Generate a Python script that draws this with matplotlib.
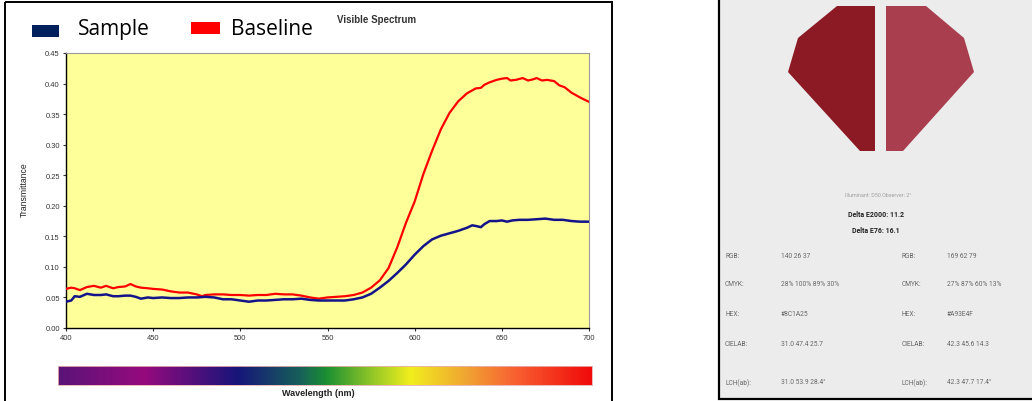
import numpy as np
import matplotlib
matplotlib.use("Agg")
from matplotlib import pyplot as plt
from matplotlib.patches import Rectangle, Polygon
from matplotlib.colors import LinearSegmentedColormap

# spectrum data
wl_sample = [400, 403, 405, 408, 412, 416, 420, 423, 427, 430, 434, 437, 440, 443, 447, 450,
             455, 460, 465, 470, 475, 480, 485, 490, 495, 500, 505, 510, 515, 520, 525, 530,
             535, 540, 545, 550, 555, 560, 565, 570, 575, 580, 585, 590, 595, 600, 605, 610,
             615, 620, 625, 630, 633, 635, 638, 640, 643, 647, 650, 653, 656, 660, 665, 670,
             675, 680, 685, 690, 695, 700]
sample = [0.043, 0.045, 0.052, 0.051, 0.056, 0.054, 0.054, 0.055, 0.052, 0.052, 0.053, 0.053,
          0.051, 0.048, 0.050, 0.049, 0.050, 0.049, 0.049, 0.050, 0.050, 0.051, 0.050, 0.047,
          0.047, 0.045, 0.043, 0.045, 0.045, 0.046, 0.047, 0.047, 0.048, 0.046, 0.045, 0.045,
          0.045, 0.045, 0.047, 0.050, 0.056, 0.066, 0.077, 0.090, 0.104, 0.120, 0.134, 0.145,
          0.151, 0.155, 0.159, 0.164, 0.168, 0.167, 0.165, 0.170, 0.175, 0.175, 0.176, 0.174,
          0.176, 0.177, 0.177, 0.178, 0.179, 0.177, 0.177, 0.175, 0.174, 0.174]

wl_base = [400, 403, 405, 408, 412, 416, 420, 423, 427, 430, 434, 437, 440, 443, 447, 450,
           455, 460, 465, 470, 475, 478, 480, 485, 490, 495, 500, 505, 510, 515, 520, 525,
           530, 535, 540, 545, 550, 555, 560, 565, 570, 575, 580, 585, 590, 595, 600, 605,
           610, 615, 620, 625, 630, 635, 638, 640, 643, 647, 650, 653, 655, 658, 662, 665,
           668, 670, 673, 676, 680, 683, 686, 690, 695, 700]
baseline = [0.064, 0.066, 0.065, 0.062, 0.067, 0.069, 0.066, 0.069, 0.065, 0.067, 0.068, 0.072,
            0.068, 0.066, 0.065, 0.064, 0.063, 0.060, 0.058, 0.058, 0.055, 0.052, 0.054, 0.055,
            0.055, 0.054, 0.054, 0.053, 0.054, 0.054, 0.056, 0.055, 0.055, 0.053, 0.050, 0.048,
            0.050, 0.051, 0.052, 0.054, 0.058, 0.066, 0.078, 0.098, 0.132, 0.172, 0.207, 0.252,
            0.290, 0.325, 0.352, 0.371, 0.384, 0.392, 0.393, 0.398, 0.402, 0.406, 0.408, 0.409,
            0.405, 0.406, 0.409, 0.405, 0.407, 0.409, 0.405, 0.406, 0.404, 0.397, 0.394, 0.385,
            0.377, 0.370]

yticks = [0.00, 0.05, 0.10, 0.15, 0.20, 0.25, 0.30, 0.35, 0.40, 0.45]
xticks = [400, 450, 500, 550, 600, 650, 700]

# colour comparison panel
left_color = "#8C1A25"
right_color = "#A93E4F"
left_shape = [(837, 7), (875, 7), (875, 152), (860, 152), (788, 73), (798, 39)]
right_shape = [(886, 7), (926, 7), (964, 39), (974, 73), (903, 152), (886, 152)]
row_labels = ["RGB:", "CMYK:", "HEX:", "CIELAB:", "LCH(ab):"]
left_values = ["140 26 37", "28% 100% 89% 30%", "#8C1A25", "31.0 47.4 25.7", "31.0 53.9 28.4°"]
right_values = ["169 62 79", "27% 87% 60% 13%", "#A93E4F", "42.3 45.6 14.3", "42.3 47.7 17.4°"]
row_y = [256, 285, 315, 345, 383]

W, H = 1032, 402
fig = plt.figure(figsize=(W / 100, H / 100), dpi=100)
fig.patch.set_facecolor("white")

# overlay axes in pixel coords for decorations
deco = fig.add_axes([0, 0, 1, 1])
deco.set_xlim(0, W)
deco.set_ylim(H, 0)
deco.axis("off")
deco.set_facecolor("none")

deco.add_patch(Rectangle((5, 3), 607, 410, fill=False, edgecolor="black", lw=1.4, clip_on=False))
deco.add_patch(Rectangle((719, -10), 330, 410, facecolor="#ececec", edgecolor="black", lw=1.6))

deco.add_patch(Rectangle((32, 26), 27, 11.5, facecolor="#03205e", edgecolor="none"))
deco.add_patch(Rectangle((191, 23), 29, 11.5, facecolor="#ff0000", edgecolor="none"))
deco.text(78, 35, "Sample", fontsize=15, family="Open Sans", va="baseline", color="black")
deco.text(231, 35, "Baseline", fontsize=15, family="Open Sans", va="baseline", color="black")
deco.text(337, 20, "Visible Spectrum", fontsize=7, fontweight="bold", family="Liberation Sans",
          va="center", color="#333333")
deco.text(24, 190, "Transmittance", fontsize=6.2, family="Liberation Sans", rotation=90,
          ha="center", va="center", color="#222222")
deco.text(318, 394, "Wavelength (nm)", fontsize=6.5, fontweight="bold", family="Liberation Sans",
          ha="center", va="center", color="#222222")

deco.add_patch(Polygon(left_shape, closed=True, facecolor=left_color, edgecolor="none"))
deco.add_patch(Polygon(right_shape, closed=True, facecolor=right_color, edgecolor="none"))
deco.text(878, 196, "Illuminant: D50 Observer: 2°", fontsize=3.9, family="Roboto",
          ha="center", va="center", color="#a0a0a0")
deco.text(876, 215, "Delta E2000: 11.2", fontsize=5.0, fontweight="bold", family="Roboto",
          ha="center", va="center", color="#222222")
deco.text(876, 231, "Delta E76: 16.1", fontsize=5.0, fontweight="bold", family="Roboto",
          ha="center", va="center", color="#222222")
for lab, lv, rv, y in zip(row_labels, left_values, right_values, row_y):
    deco.text(725, y, lab, fontsize=4.8, family="Roboto", va="center", color="#666666")
    deco.text(781, y, lv, fontsize=4.8, family="Roboto", va="center", color="#666666")
    deco.text(902, y, lab, fontsize=4.8, family="Roboto", va="center", color="#666666")
    deco.text(947, y, rv, fontsize=4.8, family="Roboto", va="center", color="#666666")

# main chart
ax = fig.add_axes([66 / W, 1 - 329 / H, (589 - 66) / W, (329 - 54) / H])
ax.set_facecolor("#ffff99")
ax.plot(wl_base, baseline, color="#ff0000", lw=1.6, zorder=3)
ax.plot(wl_sample, sample, color="#14148a", lw=1.8, zorder=3)
ax.set_xlim(400, 700)
ax.set_ylim(0, 0.45)
ax.set_xticks(xticks)
ax.set_yticks(yticks)
ax.set_yticklabels(["%.2f" % v for v in yticks])
ax.tick_params(labelsize=5.4, length=2.5, width=0.8, colors="#333333", pad=2)
for lbl in ax.get_xticklabels() + ax.get_yticklabels():
    lbl.set_family("Liberation Sans")
ax.spines["left"].set_color("black")
ax.spines["bottom"].set_color("black")
ax.spines["left"].set_linewidth(1.0)
ax.spines["bottom"].set_linewidth(1.0)
ax.spines["top"].set_color("#999999")
ax.spines["right"].set_color("#999999")
ax.spines["top"].set_linewidth(0.8)
ax.spines["right"].set_linewidth(0.8)

# spectrum bar
stops = [(0.0, "#5a1478"), (0.16, "#960a7e"), (0.335, "#17157a"), (0.453, "#16605a"),
         (0.504, "#1c9032"), (0.584, "#8cc428"), (0.66, "#f0ee1e"), (0.766, "#f0a432"),
         (0.852, "#f86432"), (1.0, "#f00a0a")]
spec = LinearSegmentedColormap.from_list("spec", stops)
cax = fig.add_axes([58 / W, 1 - 386 / H, (592 - 58) / W, (386 - 367) / H])
cax.imshow(np.linspace(0, 1, 512)[None, :], aspect="auto", cmap=spec)
cax.set_xticks([])
cax.set_yticks([])
for s in cax.spines.values():
    s.set_color("#e8b0b0")
    s.set_linewidth(0.6)

fig.savefig("out.png", dpi=100)
